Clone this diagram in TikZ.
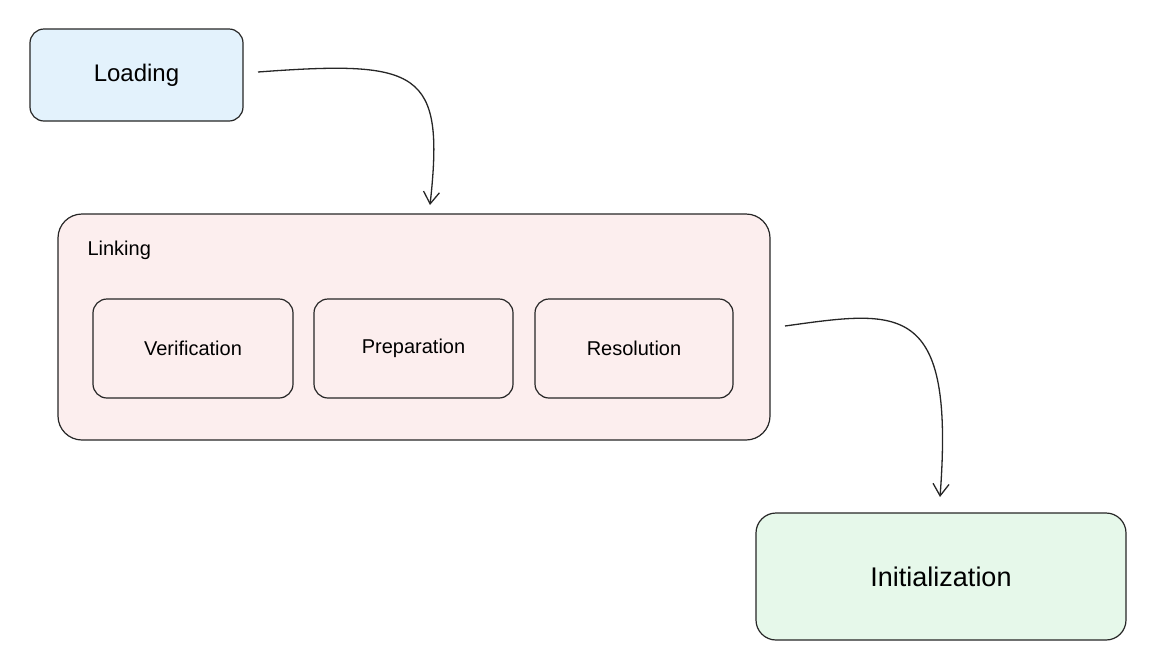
\documentclass[tikz,border=0pt]{standalone}
\usepackage{fontspec}
\setmainfont{Liberation Sans}
\usetikzlibrary{arrows.meta,patterns}
\definecolor{lblue}{HTML}{E3F2FC}
\definecolor{lred}{HTML}{FCEEEE}
\definecolor{lgreen}{HTML}{E6F8EA}
\begin{document}
\begin{tikzpicture}[x=1pt,y=-1pt,
 box/.style={draw=black!85,line width=1.2pt,rounded corners=14pt},
 lbl/.style={font=\fontsize{20}{24}\selectfont},
 arr/.style={draw=black!85,line width=1.3pt,-{Straight Barb[length=12pt,width=16pt]}}]
\useasboundingbox (0,0) rectangle (1156,670);
\node[box,fill=lblue,minimum width=213pt,minimum height=92pt,font=\fontsize{24}{28}\selectfont] (load) at (136.5,75) {Loading};
\node[box,fill=lred,minimum width=712pt,minimum height=226pt,rounded corners=24pt] (link) at (414,327) {};
\node[lbl,anchor=west] (linklbl) at (84,250) {Linking};
\node[box,lbl,minimum width=200pt,minimum height=99pt] (ver) at (193,348.5) {Verification};
\node[box,lbl,minimum width=199pt,minimum height=99pt] (pre) at (413.5,348.5) {Preparation};
\node[box,lbl,minimum width=198pt,minimum height=99pt] (res) at (634,348.5) {Resolution};
\node[box,fill=lgreen,minimum width=370pt,minimum height=127pt,rounded corners=20pt,font=\fontsize{27}{32}\selectfont] (init) at (941,576.5) {Initialization};
\coordinate (a1) at (258,72);
\coordinate (a2) at (785,326);
\coordinate (t1) at (430,205);
\coordinate (t2) at (940,497);
\draw[arr] (a1) .. controls (420,60) and (445,70) .. (t1);
\draw[arr] (a2) .. controls (900,310) and (955,300) .. (t2);
\end{tikzpicture}
\end{document}
